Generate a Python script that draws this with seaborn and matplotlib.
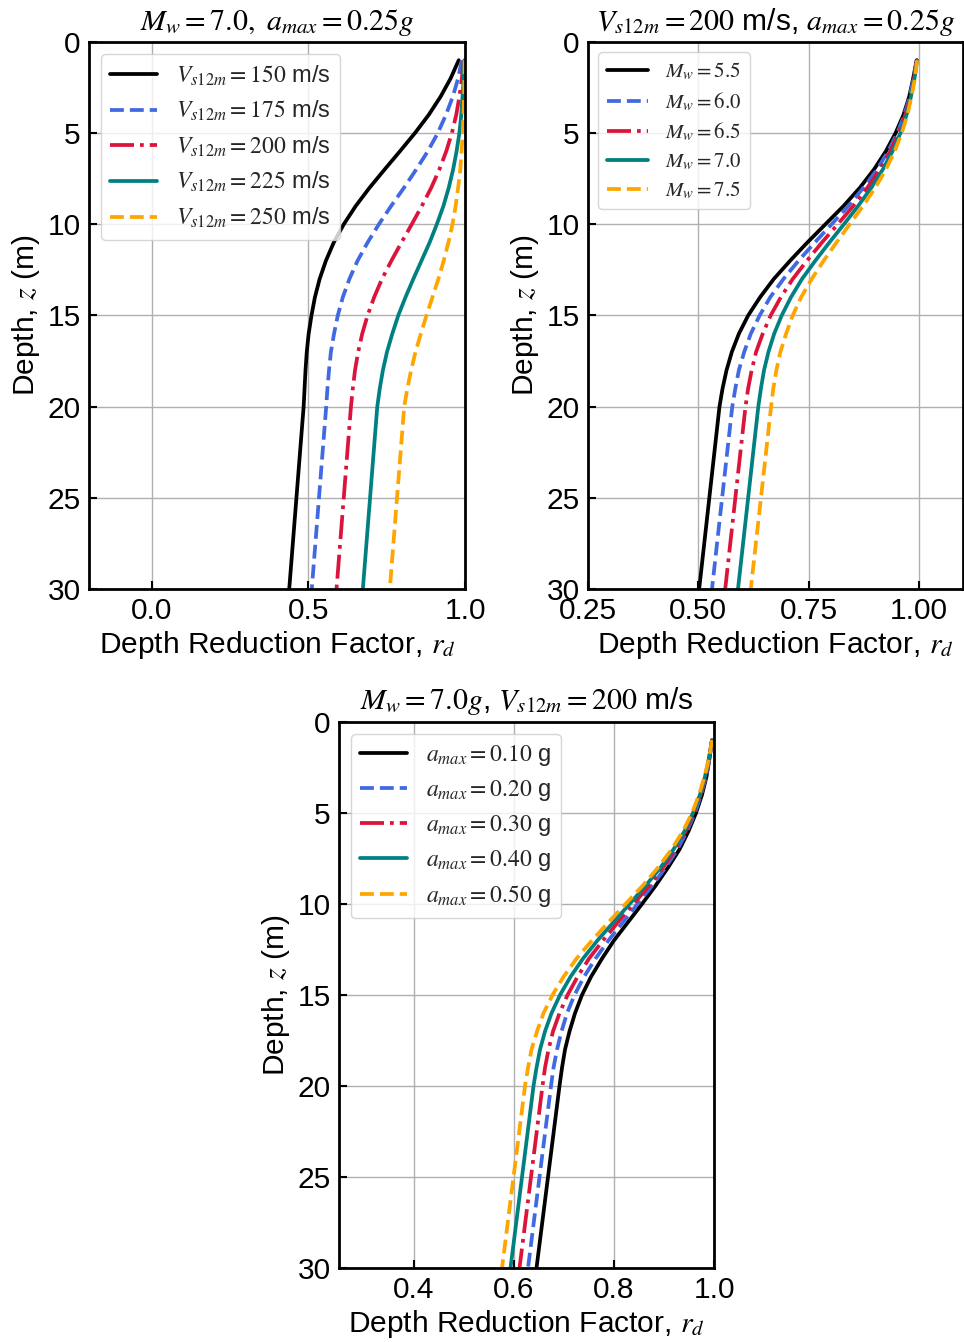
import matplotlib
matplotlib.use("Agg")
import matplotlib.pyplot as plt
import seaborn as sns
import pandas as pd

# ---------------- data ----------------
depth = [1, 2, 3, 4, 5, 6, 7, 8, 9, 10, 11, 12, 13, 14, 15, 16, 17, 18, 19, 20, 25, 30]

# Panel 1: Mw = 7.0, amax = 0.25 g, varying Vs12m
vs_labels = [r"$V_{s12m}=150$ m/s", r"$V_{s12m}=175$ m/s", r"$V_{s12m}=200$ m/s",
             r"$V_{s12m}=225$ m/s", r"$V_{s12m}=250$ m/s"]
rd_vs150 = [0.980, 0.954, 0.922, 0.884, 0.840, 0.792, 0.743, 0.695, 0.651, 0.613, 0.581,
            0.556, 0.536, 0.521, 0.510, 0.501, 0.495, 0.491, 0.488, 0.485, 0.462, 0.439]
rd_vs175 = [0.990, 0.978, 0.961, 0.939, 0.913, 0.881, 0.844, 0.805, 0.764, 0.725, 0.689,
            0.657, 0.631, 0.610, 0.594, 0.582, 0.572, 0.566, 0.561, 0.557, 0.534, 0.511]
rd_vs200 = [0.996, 0.990, 0.982, 0.972, 0.958, 0.940, 0.918, 0.892, 0.862, 0.830, 0.797,
            0.765, 0.735, 0.710, 0.689, 0.672, 0.659, 0.649, 0.642, 0.636, 0.613, 0.590]
rd_vs225 = [0.998, 0.996, 0.992, 0.988, 0.982, 0.973, 0.962, 0.948, 0.931, 0.910, 0.887,
            0.861, 0.835, 0.810, 0.787, 0.768, 0.751, 0.738, 0.728, 0.720, 0.697, 0.674]
rd_vs250 = [0.999, 0.998, 0.997, 0.995, 0.993, 0.989, 0.985, 0.978, 0.970, 0.960, 0.947,
            0.932, 0.915, 0.896, 0.877, 0.859, 0.842, 0.828, 0.816, 0.806, 0.783, 0.760]

# Panel 2: Vs12m = 200 m/s, amax = 0.25 g, varying Mw
mw_labels = [r"$M_w=5.5$", r"$M_w=6.0$", r"$M_w=6.5$", r"$M_w=7.0$", r"$M_w=7.5$"]
rd_mw55 = [0.995, 0.987, 0.978, 0.965, 0.947, 0.925, 0.898, 0.866, 0.829, 0.788, 0.747,
           0.708, 0.671, 0.640, 0.613, 0.592, 0.576, 0.564, 0.555, 0.548, 0.525, 0.502]
rd_mw60 = [0.995, 0.988, 0.979, 0.967, 0.951, 0.930, 0.905, 0.874, 0.840, 0.802, 0.764,
           0.727, 0.693, 0.663, 0.639, 0.619, 0.604, 0.592, 0.584, 0.577, 0.554, 0.531]
rd_mw65 = [0.995, 0.989, 0.981, 0.969, 0.954, 0.935, 0.911, 0.883, 0.851, 0.816, 0.780,
           0.746, 0.714, 0.687, 0.664, 0.646, 0.631, 0.621, 0.613, 0.607, 0.584, 0.561]
rd_mw70 = [0.996, 0.990, 0.982, 0.972, 0.958, 0.940, 0.918, 0.892, 0.862, 0.830, 0.797,
           0.765, 0.735, 0.710, 0.689, 0.672, 0.659, 0.649, 0.642, 0.636, 0.613, 0.590]
rd_mw75 = [0.996, 0.991, 0.983, 0.974, 0.961, 0.945, 0.925, 0.901, 0.873, 0.843, 0.813,
           0.784, 0.757, 0.733, 0.714, 0.699, 0.686, 0.677, 0.670, 0.665, 0.642, 0.619]

# Panel 3: Mw = 7.0, Vs12m = 200 m/s, varying amax
am_labels = [r"$a_{max}=0.10$ g", r"$a_{max}=0.20$ g", r"$a_{max}=0.30$ g",
             r"$a_{max}=0.40$ g", r"$a_{max}=0.50$ g"]
rd_am10 = [0.996, 0.991, 0.985, 0.976, 0.964, 0.949, 0.931, 0.908, 0.883, 0.856, 0.828,
           0.800, 0.776, 0.754, 0.736, 0.722, 0.711, 0.702, 0.696, 0.691, 0.668, 0.645]
rd_am20 = [0.996, 0.991, 0.984, 0.974, 0.962, 0.946, 0.927, 0.903, 0.876, 0.847, 0.818,
           0.789, 0.763, 0.740, 0.721, 0.706, 0.695, 0.686, 0.679, 0.674, 0.651, 0.628]
rd_am30 = [0.996, 0.990, 0.983, 0.973, 0.960, 0.943, 0.923, 0.898, 0.870, 0.839, 0.808,
           0.778, 0.750, 0.727, 0.707, 0.691, 0.678, 0.669, 0.662, 0.657, 0.634, 0.611]
rd_am40 = [0.996, 0.990, 0.982, 0.972, 0.958, 0.941, 0.919, 0.893, 0.863, 0.831, 0.799,
           0.767, 0.738, 0.713, 0.692, 0.675, 0.662, 0.652, 0.645, 0.639, 0.616, 0.593]
rd_am50 = [0.996, 0.990, 0.981, 0.970, 0.956, 0.938, 0.915, 0.888, 0.857, 0.823, 0.789,
           0.756, 0.725, 0.699, 0.677, 0.659, 0.646, 0.635, 0.628, 0.622, 0.599, 0.576]

titles = [r"$M_w=7.0,\ a_{max}=0.25g$",
          r"$V_{s12m}=200$ m/s, $a_{max}=0.25g$",
          r"$M_w=7.0g$, $V_{s12m}=200$ m/s"]
x_ticks = [[0.0, 0.5, 1.0], [0.25, 0.50, 0.75, 1.00], [0.4, 0.6, 0.8, 1.0]]
x_ticklabels = [["0.0", "0.5", "1.0"], ["0.25", "0.50", "0.75", "1.00"], ["0.4", "0.6", "0.8", "1.0"]]
x_limits = [(-0.2, 1.0), (0.25, 1.1), (0.25, 1.0)]
y_ticks = [0, 5, 10, 15, 20, 25, 30]

# ---------------- style ----------------
sns.set_theme(style="whitegrid")
plt.rcParams["font.family"] = ["Liberation Sans", "DejaVu Sans"]
plt.rcParams["mathtext.fontset"] = "stix"

colors = ["black", "royalblue", "crimson", "teal", "orange"]
styles = ["-", "--", "-.", "-", "--"]

fig = plt.figure(figsize=(9.64, 13.42), dpi=100)
W, H = 964.0, 1342.0
rects = [(89, 42, 465, 589), (588, 42, 963, 589), (339, 722, 714, 1268)]
axes = [fig.add_axes([l / W, 1 - b / H, (r - l) / W, (b - t) / H]) for (l, t, r, b) in rects]

panels = [
    (vs_labels, [rd_vs150, rd_vs175, rd_vs200, rd_vs225, rd_vs250], 17, 0.48),
    (mw_labels, [rd_mw55, rd_mw60, rd_mw65, rd_mw70, rd_mw75], 15, 0.37),
    (am_labels, [rd_am10, rd_am20, rd_am30, rd_am40, rd_am50], 17, 0.42),
]

FS = 21.5
for i, (ax, (labels, series, lfs, lsp)) in enumerate(zip(axes, panels)):
    for lab, vals, c, ls in zip(labels, series, colors, styles):
        df = pd.DataFrame({"rd": vals, "z": depth})
        sns.lineplot(data=df, x="rd", y="z", sort=False, estimator=None, ax=ax,
                     color=c, linestyle=ls, linewidth=2.7, label=lab)
    ax.set_xlim(*x_limits[i])
    ax.set_ylim(30, 0)
    ax.set_xticks(x_ticks[i])
    ax.set_xticklabels(x_ticklabels[i])
    ax.set_yticks(y_ticks)
    ax.set_facecolor("white")
    ax.grid(True, color="#b0b0b0", linewidth=1.0)
    for sp in ax.spines.values():
        sp.set_color("black")
        sp.set_linewidth(2.0)
    ax.tick_params(direction="in", length=6, width=1.5, labelsize=FS, colors="black",
                   top=False, right=False, bottom=True, left=True, pad=6)
    ax.set_xlabel(r"Depth Reduction Factor, $r_d$", fontsize=FS, color="black", labelpad=3)
    ax.set_ylabel(r"Depth, $z$ (m)", fontsize=FS, color="black", labelpad=4)
    ax.set_title(titles[i], fontsize=FS, color="black", pad=9)
    ax.legend(loc="upper left", fontsize=lfs, frameon=True, fancybox=True,
              framealpha=0.8, edgecolor="#cccccc", labelspacing=lsp)

fig.savefig("out.png", dpi=100, facecolor="white")
